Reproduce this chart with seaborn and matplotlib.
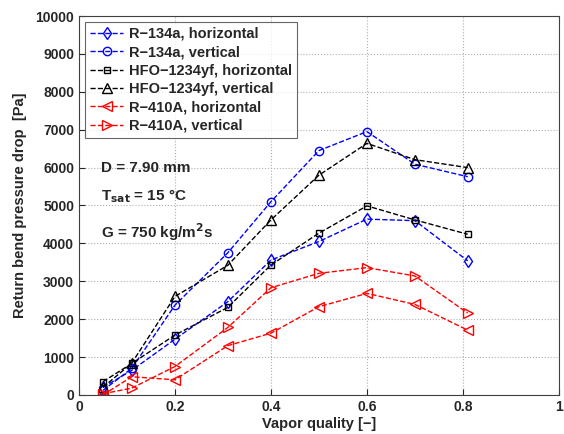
import numpy as np
import pandas as pd
import seaborn as sns
import matplotlib.pyplot as plt

quality = [0.05, 0.11, 0.20, 0.31, 0.40, 0.50, 0.60, 0.70, 0.81]

r134a_h = [200, 650, 1470, 2460, 3560, 4050, 4640, 4600, 3540]
r134a_v = [120, 700, 2370, 3750, 5100, 6450, 6950, 6090, 5760]
hfo_h = [350, 830, 1580, 2310, 3430, 4270, 4990, 4620, 4240]
hfo_v = [200, 840, 2600, 3420, 4620, 5800, 6640, 6210, 6000]
r410a_h = [0, 480, 400, 1300, 1630, 2330, 2680, 2390, 1710]
r410a_v = [30, 180, 750, 1780, 2830, 3210, 3360, 3140, 2160]

labels = ["R\u2212134a, horizontal", "R\u2212134a, vertical",
          "HFO\u22121234yf, horizontal", "HFO\u22121234yf, vertical",
          "R\u2212410A, horizontal", "R\u2212410A, vertical"]
series = [r134a_h, r134a_v, hfo_h, hfo_v, r410a_h, r410a_v]
colors = ["#0000ff", "#0000ff", "#000000", "#000000", "#ff0000", "#ff0000"]
markers = ["d", "o", "s", "^", "<", ">"]
msizes = [6, 6, 4.5, 6.5, 7, 7]

sns.set_style("ticks")
plt.rcParams["font.family"] = ["Liberation Sans", "DejaVu Sans"]
plt.rcParams["font.weight"] = "bold"
plt.rcParams["axes.labelweight"] = "bold"

fig = plt.figure(figsize=(5.64, 4.34), dpi=100)
ax = fig.add_axes([0.140, 0.090, 0.851, 0.873])

for lab, vals, c, m, ms in zip(labels, series, colors, markers, msizes):
    df = pd.DataFrame({"x": quality, "y": vals})
    sns.lineplot(data=df, x="x", y="y", ax=ax, color=c, marker=m,
                 markersize=ms, markerfacecolor="none", markeredgecolor=c,
                 markeredgewidth=1.0, linestyle="--", linewidth=1.0,
                 dashes=(5, 3.5), label=lab)

ax.set_xlim(0, 1)
ax.set_ylim(0, 10000)
ax.set_xticks(np.arange(0, 1.01, 0.2))
ax.set_xticklabels(["0", "0.2", "0.4", "0.6", "0.8", "1"])
ax.set_yticks(np.arange(0, 10001, 1000))
ax.tick_params(direction="in", labelsize=10, length=4, width=0.8)
ax.grid(True, linestyle=":", color="#b0b0b0", linewidth=0.8)
for s in ax.spines.values():
    s.set_visible(True)
    s.set_color("#404040")
    s.set_linewidth(0.8)

ax.set_xlabel("Vapor quality [\u2212]", fontsize=10.5, labelpad=2)
ax.set_ylabel("Return bend pressure drop  [Pa]", fontsize=10.5, labelpad=6)

ax.text(0.045, 6000, "D = 7.90 mm", fontsize=11, fontweight="bold", va="center")
ax.text(0.045, 5250, "T$_{\\mathbf{sat}}$ = 15 \u00b0C",
        fontsize=11, fontweight="bold", va="center")
ax.text(0.045, 4300, "G = 750 kg/m$^{\\mathbf{2}}$s", fontsize=11,
        fontweight="bold", va="center")

leg = ax.legend(loc="upper left", fontsize=10.5, handlelength=2.3,
                frameon=True, fancybox=False, edgecolor="#404040",
                borderpad=0.35, labelspacing=0.3, handletextpad=0.4,
                borderaxespad=0.4)
leg.get_frame().set_linewidth(0.8)

fig.savefig("out.png", dpi=100)
